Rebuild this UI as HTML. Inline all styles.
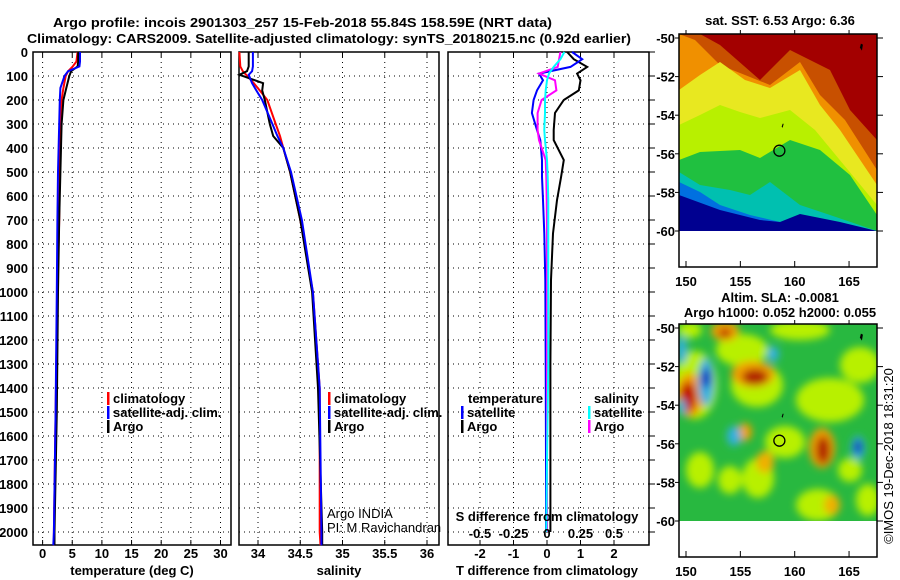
<!DOCTYPE html>
<html><head><meta charset="utf-8"><style>
html,body{margin:0;padding:0;background:#fff;}
svg{display:block;font-family:"Liberation Sans",Arial,sans-serif;}
.b{font-weight:bold;font-size:13px;}
</style></head><body>
<svg id="fig" width="900" height="580" viewBox="0 0 900 580" xmlns="http://www.w3.org/2000/svg">
<defs>
<filter id="blur5" x="-30%" y="-30%" width="160%" height="160%"><feGaussianBlur stdDeviation="4"/></filter>
<clipPath id="c1"><rect x="679" y="34" width="198" height="197"/></clipPath>
<clipPath id="c2"><rect x="679" y="324" width="198" height="197"/></clipPath>
</defs>
<text class="b" x="53" y="27" textLength="499" lengthAdjust="spacingAndGlyphs">Argo profile: incois 2901303_257 15-Feb-2018 55.84S 158.59E (NRT data)</text>
<text class="b" x="27" y="43" textLength="604" lengthAdjust="spacingAndGlyphs">Climatology: CARS2009. Satellite-adjusted climatology: synTS_20180215.nc (0.92d earlier)</text>
<g id="panels"></g>
<g id="maps"></g>
</svg>
<script>
// ---- data ----
const tempDepth = [0,40,60,80,100,150,200,300,500,700,1000,1500,2000,2055];
const tempArgo  = [6.0,6.0,5.9,4.8,4.5,4.0,3.5,3.2,3.0,2.8,2.6,2.4,2.0,2.0];
const tempClim  = [5.9,5.7,5.1,4.3,3.9,3.5,3.2,3.0,2.9,2.8,2.5,2.2,1.9,1.9];
const tempSat   = [6.3,6.3,6.2,4.3,3.7,3.0,2.9,2.8,2.6,2.5,2.4,2.2,1.9,1.8];
const salDepth = [0,60,80,95,130,160,200,300,350,400,500,700,1000,1400,2000,2055];
const salArgo  = [33.89,33.89,33.87,33.78,34.06,34.05,34.08,34.14,34.18,34.30,34.38,34.50,34.64,34.71,34.76,34.76];
const salClim  = [33.78,33.79,33.82,33.86,33.95,34.02,34.11,34.21,34.26,34.30,34.38,34.50,34.65,34.73,34.73,34.74];
const salSat   = [33.94,33.94,33.93,33.89,33.93,33.98,34.05,34.17,34.23,34.30,34.39,34.52,34.65,34.73,34.75,34.75];
const dDepth = [0,30,62,90,118,160,200,254,325,367,450,520,617,756,950,1300,1700,2000];
const dTArgo = [0.6,0.8,1.2,0.9,1.0,0.95,0.5,0.24,0.2,0.2,0.5,0.42,0.3,0.18,0.12,0.1,0.1,0.1];
const dTSat  = [0.75,1.05,0.7,-0.24,-0.12,-0.3,-0.4,-0.45,-0.3,-0.2,-0.15,-0.15,-0.12,-0.08,-0.05,-0.04,-0.03,-0.03];
const dSSat  = [0.13,0.1,0.05,0.015,0.0,-0.01,-0.015,-0.015,-0.02,-0.015,0.0,0.005,0.01,0.01,0.01,0.01,0.0,-0.005];
const dSArgo = [0.1,0.09,0.08,-0.06,0.06,0.07,-0.04,-0.07,-0.07,-0.06,-0.01,-0.005,-0.002,0.0,0.0,0.0,0.0,0.0];
const depthTicks = [0,100,200,300,400,500,600,700,800,900,1000,1100,1200,1300,1400,1500,1600,1700,1800,1900,2000];
const tempTicks = [0,5,10,15,20,25,30];
const salTicks = [34,34.5,35,35.5,36];
const salTickLabels = ["34","34.5","35","35.5","36"];
const dTTicks = [-2,-1,0,1,2];
const dSTicks = [-0.5,-0.25,0,0.25,0.5];
const dSTickLabels = ["-0.5","-0.25","0","0.25","0.5"];
const latTicks = [-50,-52,-54,-56,-58,-60];
const lonTicks = [150,155,160,165];
const argoLon = 158.59, argoLat = -55.84;

const NS="http://www.w3.org/2000/svg";
function mk(tag,attrs,parent){const e=document.createElementNS(NS,tag);for(const k in attrs)e.setAttribute(k,attrs[k]);parent.appendChild(e);return e;}
const top0=52, bot=545;
const yD = d => top0 + d*0.24;
const P=document.getElementById('panels');

function panel(name){
  const g=mk('g',{},P);
  
  
  return g;
}
function grid(g,x0,x1,xs,xScale){
  depthTicks.forEach(d=>{mk('line',{x1:x0,x2:x1,y1:yD(d),y2:yD(d),stroke:'#000','stroke-dasharray':'1,4','stroke-width':1},g);});
  xs.forEach(v=>{const x=xScale(v);mk('line',{x1:x,x2:x,y1:top0,y2:bot,stroke:'#000','stroke-dasharray':'1,4','stroke-width':1},g);
    mk('line',{x1:x,x2:x,y1:top0,y2:top0+5,stroke:'#000'},g);mk('line',{x1:x,x2:x,y1:bot,y2:bot-5,stroke:'#000'},g);});
  mk('rect',{x:x0,y:top0,width:x1-x0,height:bot-top0,fill:'none',stroke:'#000','stroke-width':1.5},g);
}
function line(g,vals,depths,xScale,color,name){
  const pts=vals.map((v,i)=>xScale(v).toFixed(1)+','+yD(depths[i]).toFixed(1)).join(' ');
  const l=mk('polyline',{points:pts,fill:'none',stroke:color,'stroke-width':2},g);
  
  
}
function txt(g,x,y,s,cls,anchor,name){
  const t=mk('text',{x:x,y:y,'font-size':13,'font-weight':cls==='n'?'normal':'bold','text-anchor':anchor||'start'},g);
  t.textContent=s;
  
  
  return t;
}
function legend(g,x,y,color,label,name){
  mk('rect',{x:x,y:y-11,width:2.5,height:13,fill:color},g);
  txt(g,x+6,y,label,'b','start',name);
}

const ya=panel('depth-axis');
depthTicks.forEach(d=>txt(ya,28,yD(d)+5,String(d),'b','end','depth-tick-label'));

const tx=v=>42.6+v*5.93;
const g1=panel('temperature-panel');
grid(g1,33,231,tempTicks,tx);
line(g1,tempClim,tempDepth,tx,'#f00','temp-climatology-line');
line(g1,tempArgo,tempDepth,tx,'#000','temp-argo-line');
line(g1,tempSat,tempDepth,tx,'#00f','temp-satellite-line');
tempTicks.forEach(v=>txt(g1,tx(v),558,String(v),'b','middle','temp-tick-label'));
txt(g1,132,575,'temperature (deg C)','b','middle','temperature-axis-title');
legend(g1,107,403,'#f00','climatology','legend-climatology');
legend(g1,107,417,'#00f','satellite-adj. clim.','legend-satellite');
legend(g1,107,431,'#000','Argo','legend-argo');

const sx=v=>258+(v-34)*84.5;
const g2=panel('salinity-panel');
grid(g2,239,439,salTicks,sx);
line(g2,salClim,salDepth,sx,'#f00','sal-climatology-line');
line(g2,salArgo,salDepth,sx,'#000','sal-argo-line');
line(g2,salSat,salDepth,sx,'#00f','sal-satellite-line');
salTicks.forEach((v,i)=>txt(g2,sx(v),558,salTickLabels[i],'b','middle','sal-tick-label'));
txt(g2,339,575,'salinity','b','middle','salinity-axis-title');
legend(g2,328,403,'#f00','climatology','legend-climatology');
legend(g2,328,417,'#00f','satellite-adj. clim.','legend-satellite');
legend(g2,328,431,'#000','Argo','legend-argo');
txt(g2,327,518,'Argo INDIA','n','start','credit-argo-india');
txt(g2,327,532,'PI: M Ravichandran','n','start','credit-pi');

const dtx=v=>547+v*33.5;
const dsx=v=>547+v*134;
const g3=panel('difference-panel');
grid(g3,448,649,dTTicks,dtx);
depthTicks.forEach(d=>mk('line',{x1:649,x2:655,y1:yD(d),y2:yD(d),stroke:'#000'},g3));
line(g3,dTArgo,dDepth,dtx,'#000','dT-argo-line');
line(g3,dTSat,dDepth,dtx,'#00f','dT-satellite-line');
line(g3,dSArgo,dDepth,dsx,'#f0f','dS-argo-line');
line(g3,dSSat,dDepth,dsx,'#0ff','dS-satellite-line');
dTTicks.forEach(v=>txt(g3,dtx(v),558,String(v),'b','middle','dT-tick-label'));
dSTicks.forEach((v,i)=>txt(g3,dsx(v),538,dSTickLabels[i],'b','middle','dS-tick-label'));
txt(g3,547,521,'S difference from climatology','b','middle','dS-axis-title');
txt(g3,547,575,'T difference from climatology','b','middle','dT-axis-title');
txt(g3,468,403,'temperature','b','start','legend-temperature-heading');
legend(g3,461,417,'#00f','satellite','legend-t-satellite');
legend(g3,461,431,'#000','Argo','legend-t-argo');
txt(g3,594,403,'salinity','b','start','legend-salinity-heading');
legend(g3,588,417,'#0ff','satellite','legend-s-satellite');
legend(g3,588,431,'#f0f','Argo','legend-s-argo');

// ---- maps ----
const M=document.getElementById('maps');
const lonX=lon=>686+(lon-150)*10.87;
function mapFrame(g,yTop,y50){
  const latY=lat=>y50+(-50-lat)*19.3;
  mk('rect',{x:679,y:yTop,width:198,height:233,fill:'none',stroke:'#000','stroke-width':1.5},g);
  latTicks.forEach(l=>{const y=latY(l);mk('line',{x1:877,x2:883,y1:y,y2:y,stroke:'#000'},g);mk('line',{x1:679,x2:675,y1:y,y2:y,stroke:'#000'},g);
    txt(g,675,y+5,String(l),'b','end','lat-tick-label');});
  lonTicks.forEach(l=>{const x=lonX(l);mk('line',{x1:x,x2:x,y1:yTop+233,y2:yTop+227,stroke:'#000'},g);mk('line',{x1:x,x2:x,y1:yTop,y2:yTop-4,stroke:'#000'},g);
    txt(g,x,yTop+252,String(l),'b','middle','lon-tick-label');});
  mk('circle',{cx:lonX(argoLon),cy:latY(argoLat),r:5.5,fill:'none',stroke:'#000','stroke-width':1.3},g);
  mk('path',{d:`M${lonX(166)} ${latY(-50.5)} l1 -4 l2 1 l-1 6 z`,fill:'#000'},g);
  mk('path',{d:`M${lonX(158.8)} ${latY(-54.6)} l1 -3 l1 0 l-1 4 z`,fill:'#000'},g);
}
const m1=mk('g',{},M);


const s1=mk('g',{'clip-path':'url(#c1)'},m1);
mk('rect',{x:679,y:34,width:198,height:197,fill:'#a30000'},s1);
const bands=[
 ['#c85000','679,34 700,34 720,45 760,80 790,50 830,70 850,110 877,140 877,231 679,231'],
 ['#f09000','679,34 695,40 720,65 745,75 770,85 800,62 820,95 845,120 877,170 877,231 679,231'],
 ['#e8e820','679,90 700,75 720,62 745,80 770,88 800,70 820,105 840,130 877,185 877,231 679,231'],
 ['#b8f000','679,125 700,115 720,105 740,112 760,118 790,110 815,130 877,205 877,231 679,231'],
 ['#20c040','679,160 700,152 740,150 760,158 790,140 820,150 850,175 877,215 877,231 679,231'],
 ['#00c0b0','679,172 700,185 730,190 750,195 770,182 800,205 830,215 877,231 679,231'],
 ['#0070e0','679,182 700,192 720,205 750,215 780,222 810,225 877,231 679,231'],
 ['#000090','679,195 720,210 760,220 780,222 800,214 840,222 877,231 679,231']
];
bands.forEach(b=>mk('polygon',{points:b[1],fill:b[0]},s1));
mk('rect',{x:679,y:231,width:198,height:36,fill:'#fff'},m1);
mapFrame(m1,34,38);
txt(m1,780,25,'sat. SST: 6.53 Argo: 6.36','b','middle','sst-map-title');

const m2=mk('g',{},M);


const s2=mk('g',{'clip-path':'url(#c2)'},m2);
mk('rect',{x:679,y:324,width:198,height:197,fill:'#28b840'},s2);
const blobs=mk('g',{filter:'url(#blur5)'},s2);
[
 ['#b8f000',695,385,22,34],['#b8f000',742,350,26,16],['#b8f000',757,385,26,22],['#b8f000',830,400,34,22],
 ['#b8f000',785,442,20,16],['#b8f000',758,478,16,20],['#b8f000',818,505,22,16],['#b8f000',860,365,20,18],
 ['#b8f000',700,470,14,18],['#b8f000',868,500,12,16],['#b8f000',800,330,30,10],['#b8f000',730,480,12,14],
 ['#b8f000',850,470,12,12],['#b8f000',690,330,12,8],
 ['#f0a000',690,395,14,22],['#c00000',688,397,8,15],['#f0a000',753,374,22,13],['#b02000',755,377,13,8],
 ['#f0a000',725,331,14,10],['#b83000',725,333,6,5],['#f0a000',822,448,13,20],['#b02000',823,450,7,14],['#f0a000',745,432,7,9],
 ['#f0b000',765,462,9,11],['#f0b000',832,505,8,10],
 ['#30b0e0',706,382,8,24],['#0030c0',706,378,5,10],['#30b0e0',734,436,7,10],['#30b0e0',773,354,6,8],
 ['#30b0e0',858,448,7,12],['#0020b0',858,447,4,7],['#30b0e0',682,350,5,14],['#30b0e0',682,407,4,8]
].forEach(e=>mk('ellipse',{cx:e[1],cy:e[2],rx:e[3],ry:e[4],fill:e[0]},blobs));
mk('rect',{x:679,y:521,width:198,height:36,fill:'#fff'},m2);
mapFrame(m2,324,328);
txt(m2,780,302,'Altim. SLA: -0.0081','b','middle','sla-map-title');
txt(m2,780,317,'Argo h1000: 0.052 h2000: 0.055','b','middle','argo-height-title');
const im=txt(m2,0,0,'©IMOS 19-Dec-2018 18:31:20','n','middle','imos-credit');
im.setAttribute('transform','translate(893,456) rotate(-90)');
</script>
</body></html>
